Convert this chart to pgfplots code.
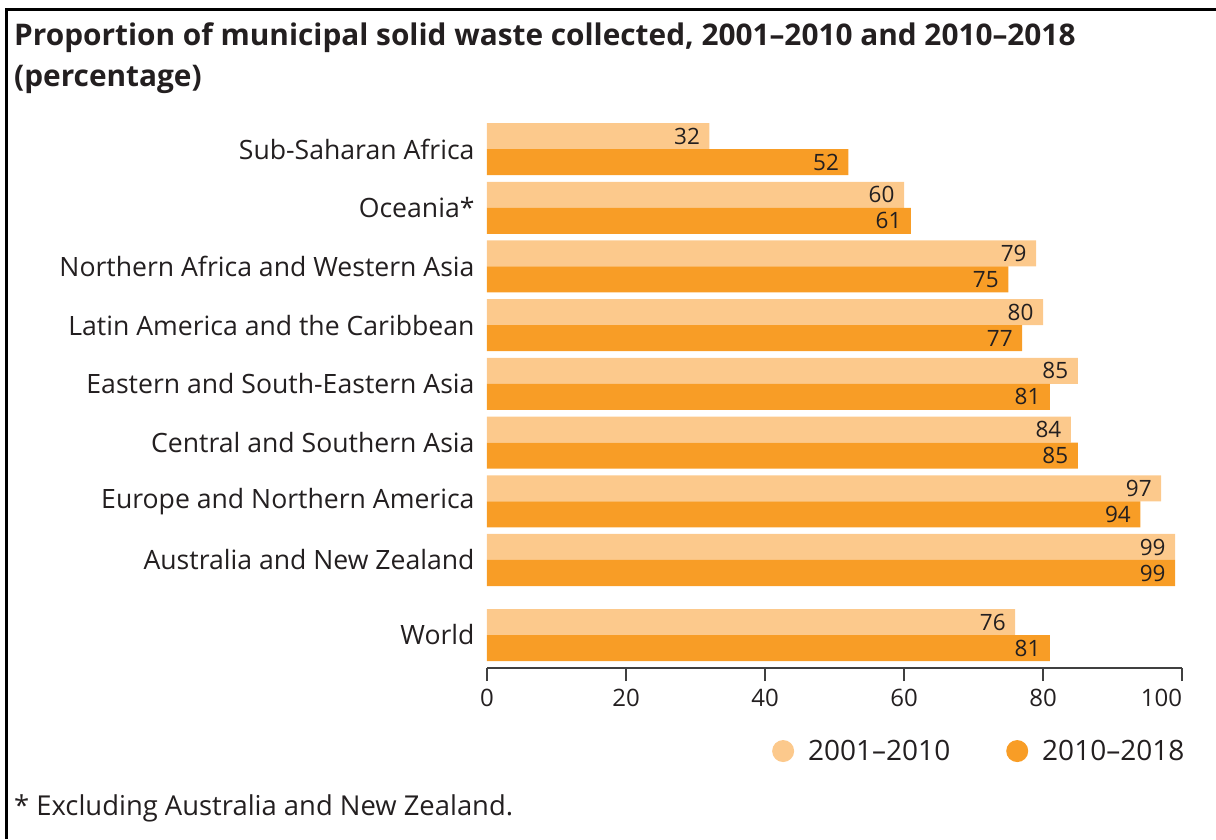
\documentclass[border=0pt]{standalone}
\usepackage{fontspec}
\setmainfont{Open Sans}
\usepackage{pgfplots}
\pgfplotsset{compat=1.18}
\definecolor{lightor}{RGB}{252,201,140}
\definecolor{darkor}{RGB}{248,157,38}
\definecolor{axisgray}{RGB}{64,64,64}
\definecolor{txt}{RGB}{35,31,32}
\begin{document}
\begin{tikzpicture}[x=1pt,y=1pt]
\path[use as bounding box] (0,0) rectangle (1216,-839);
\draw[line width=3pt] (6.5,-839) -- (6.5,-9.5) -- (1216,-9.5);
\node[anchor=base west, inner sep=0, font=\fontsize{29.8}{34}\selectfont\bfseries, text=txt] at (14,-45) {Proportion of municipal solid waste collected, 2001--2010 and 2010--2018};
\node[anchor=base west, inner sep=0, font=\fontsize{29.8}{34}\selectfont\bfseries, text=txt] at (14,-86) {(percentage)};
\node[anchor=base west, inner sep=0, font=\fontsize{27.4}{30}\selectfont, text=txt] at (14,-815) {* Excluding Australia and New Zealand.};
\begin{axis}[
  at={(487pt,-668pt)}, anchor=south west,
  scale only axis, width=695pt, height=550pt,
  xbar, bar width=0.443,
  xmin=0, xmax=100, ymin=-0.562, ymax=8.807,
  axis x line*=bottom, axis y line*=left,
  x axis line style={axisgray, line width=2.2pt, -},
  y axis line style={draw=none},
  xtick={0,20,...,100},
  xticklabels={0,20,40,60,80,\makebox[0pt][r]{100}},
  tick align=outside, major tick length=13pt,
  xtick style={axisgray, line width=2pt},
  ytick style={draw=none},
  ytick={0,1.278,2.278,3.278,4.278,5.278,6.278,7.278,8.278},
  yticklabels={World, Australia and New Zealand, Europe and Northern America, Central and Southern Asia, Eastern and South-Eastern Asia, Latin America and the Caribbean, Northern Africa and Western Asia, Oceania*, Sub-Saharan Africa},
  /pgf/number format/assume math mode=true,
  x tick label style={font=\fontsize{24}{28}\selectfont, text=txt, yshift=-5pt},
  y tick label style={font=\fontsize{26.6}{30}\selectfont, text=txt, anchor=east, xshift=4pt},
  nodes near coords,
  point meta=x,
  nodes near coords align={anchor=east},
  every node near coord/.append style={font=\fontsize{22.5}{26}\selectfont, text=txt, xshift=-6pt},
  legend columns=2,
  legend style={at={(axis description cs:0.41,-0.151)}, anchor=west, draw=none, fill=none,
    font=\fontsize{28}{32}\selectfont, text=txt, inner sep=0pt,
    /tikz/every odd column/.append style={column sep=12pt},
    /tikz/every even column/.append style={column sep=54pt}},
]
\addplot[fill=lightor, draw=none, bar shift=0.2215,
  legend image code/.code={\fill[lightor] (11pt,0pt) circle (11pt);}]
  coordinates {(76,0) (99,1.278) (97,2.278) (84,3.278) (85,4.278) (80,5.278) (79,6.278) (60,7.278) (32,8.278)};
\addplot[fill=darkor, draw=none, bar shift=-0.2215,
  legend image code/.code={\fill[darkor] (11pt,0pt) circle (11pt);}]
  coordinates {(81,0) (99,1.278) (94,2.278) (85,3.278) (81,4.278) (77,5.278) (75,6.278) (61,7.278) (52,8.278)};
\legend{2001--2010, 2010--2018}
\end{axis}
\end{tikzpicture}
\end{document}
